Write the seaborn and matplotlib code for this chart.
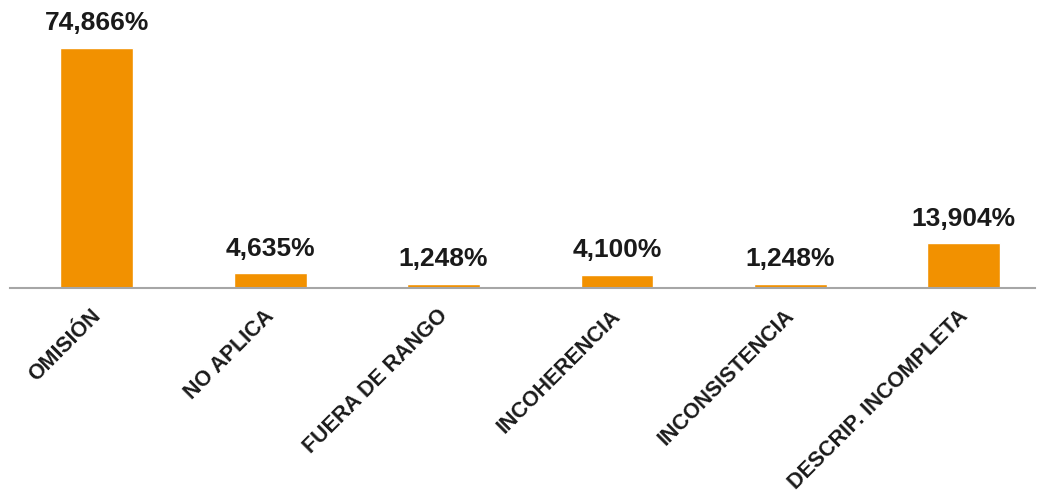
import matplotlib
matplotlib.use("Agg")
import matplotlib.pyplot as plt
import matplotlib.transforms as mtransforms
import seaborn as sns
import pandas as pd

categories = ["OMISIÓN", "NO APLICA", "FUERA DE RANGO", "INCOHERENCIA",
              "INCONSISTENCIA", "DESCRIP. INCOMPLETA"]
values = [74.866, 4.635, 1.248, 4.100, 1.248, 13.904]

BAR_COLOR = "#F29100"

sns.set_style("white")
plt.rcParams["font.family"] = ["Liberation Sans", "DejaVu Sans"]

df = pd.DataFrame({"cat": categories, "val": values})

fig = plt.figure(figsize=(10.37, 4.93), dpi=100)
ax = fig.add_axes([10 / 1037, 1 - 288 / 493, 1025 / 1037, (288 - 31.5) / 493])

sns.barplot(data=df, x="cat", y="val", color=BAR_COLOR, width=0.42,
            saturation=1, ax=ax)

ax.set_ylim(0, 80)
ax.set_xlim(-0.5, 5.41)

labels = [f"{v:.3f}".replace(".", ",") + "%" for v in values]
ax.bar_label(ax.containers[0], labels=labels, padding=9,
             fontsize=19, fontweight="bold", color="#1a1a1a")

for s in ["top", "right", "left"]:
    ax.spines[s].set_visible(False)
ax.spines["bottom"].set_color("#A6A6A6")
ax.spines["bottom"].set_linewidth(1.5)

ax.set_yticks([])
ax.set_xlabel("")
ax.set_ylabel("")
ax.tick_params(axis="x", length=0, pad=18)
offset = mtransforms.ScaledTranslation(1 / 100, 0, fig.dpi_scale_trans)
for lab in ax.get_xticklabels():
    lab.set_rotation(45)
    lab.set_ha("right")
    lab.set_va("center")
    lab.set_rotation_mode("anchor")
    lab.set_fontsize(15.5)
    lab.set_fontweight("bold")
    lab.set_color("#1a1a1a")
    lab.set_transform(lab.get_transform() + offset)

fig.savefig("out.png", dpi=100, facecolor="white")
